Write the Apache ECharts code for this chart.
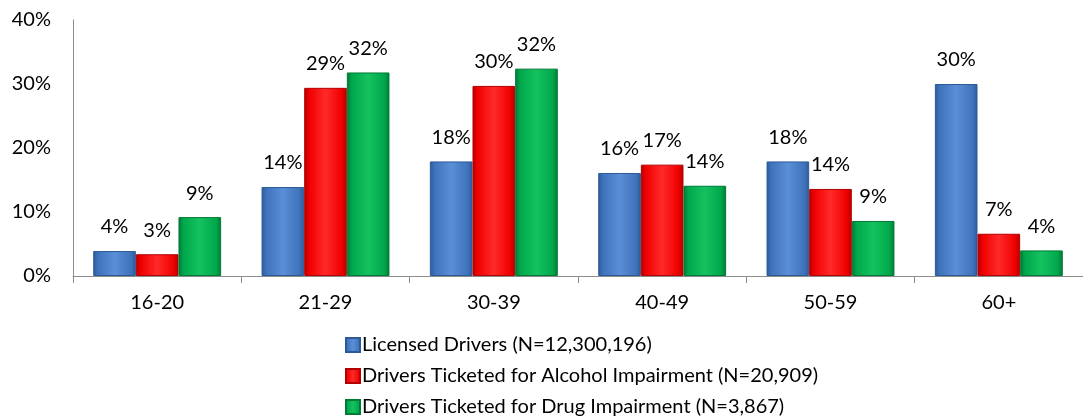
<!DOCTYPE html>
<html>
<head>
<meta charset="utf-8">
<script src="https://cdn.jsdelivr.net/npm/echarts@6/dist/echarts.min.js"></script>
<style>
	html, body { margin: 0; padding: 0; background: #fff; }
	#chart { width: 1083px; height: 420px; }
</style>
</head>
<body>
<div id="chart"></div>
<script>
	// 数据
	var ageGroups = ['16-20', '21-29', '30-39', '40-49', '50-59', '60+'];
	var licensed = [3.9, 13.9, 17.9, 16.1, 17.9, 30.0];
	var alcohol = [3.4, 29.4, 29.7, 17.4, 13.6, 6.6];
	var drug = [9.2, 31.8, 32.4, 14.1, 8.6, 4.0];
	var seriesNames = [
		'Licensed Drivers (N=12,300,196)',
		'Drivers Ticketed for Alcohol Impairment (N=20,909)',
		'Drivers Ticketed for Drug Impairment (N=3,867)'
	];
	var yTicks = [0, 10, 20, 30, 40];

	var font = 'Lato, "Open Sans", sans-serif';

	function bevel(dark, mid, light) {
		return new echarts.graphic.LinearGradient(0, 0, 1, 0, [
			{ offset: 0, color: dark },
			{ offset: 0.12, color: mid },
			{ offset: 0.5, color: light },
			{ offset: 0.88, color: mid },
			{ offset: 1, color: dark }
		])
	}

	function makeSeries(name, data, dark, mid, light) {
		return {
			name: name,
			type: 'bar',
			data: data,
			barGap: '0%',
			barCategoryGap: '24%',
			itemStyle: {
				color: bevel(dark, mid, light),
				borderColor: dark,
				borderWidth: 1
			},
			label: {
				show: true,
				position: 'top',
				distance: 14,
				color: '#000',
				fontSize: 20,
				fontFamily: font,
				formatter: function (p) {
					return Math.round(p.value) + '%'
				}
			}
		}
	}

	var chart = echarts.init(document.getElementById('chart'));
	var option = {
		animation: false,
		textStyle: { fontFamily: font },
		grid: {
			left: 73,
			right: -13,
			top: 20,
			bottom: 144
		},
		legend: {
			orient: 'vertical',
			left: 345,
			top: 335,
			height: 100,
			padding: 0,
			itemWidth: 14,
			itemHeight: 14,
			itemGap: 11,
			icon: 'rect',
			textStyle: {
				color: '#000',
				fontSize: 20,
				fontFamily: font,
				padding: [0, 0, 0, -3]
			},
			data: seriesNames
		},
		xAxis: {
			type: 'category',
			data: ageGroups,
			axisLine: { lineStyle: { color: '#8c8c8c' } },
			axisTick: { show: true, length: 7, lineStyle: { color: '#8c8c8c' } },
			axisLabel: {
				color: '#000',
				fontSize: 20,
				fontFamily: font,
				margin: 17
			}
		},
		yAxis: {
			type: 'value',
			min: yTicks[0],
			max: yTicks[yTicks.length - 1],
			interval: 10,
			axisLine: { show: true, lineStyle: { color: '#8c8c8c' } },
			axisTick: { show: false },
			splitLine: { show: false },
			axisLabel: {
				color: '#000',
				fontSize: 20,
				fontFamily: font,
				margin: 22,
				formatter: '{value}%'
			}
		},
		series: [
			makeSeries(seriesNames[0], licensed, '#2d5a96', '#3f74bd', '#5a8fd6'),
			makeSeries(seriesNames[1], alcohol, '#b30000', '#f00000', '#ff2a2a'),
			makeSeries(seriesNames[2], drug, '#007a36', '#00a84c', '#14c25e')
		]
	};
	chart.setOption(option);
</script>
</body>
</html>
